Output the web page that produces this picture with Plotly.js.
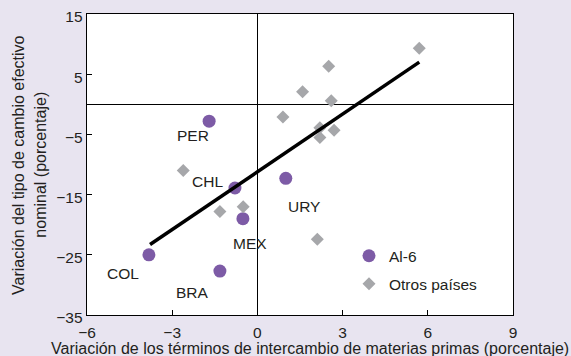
<!DOCTYPE html>
<html>
<head>
<meta charset="utf-8">
<script src="https://cdn.plot.ly/plotly-3.0.1.min.js"></script>
<style>html,body{margin:0;padding:0;background:#e8e4f0;}#chart{width:571px;height:356px;}</style>
</head>
<body>
<div id="chart"></div>
<script>
// Al-6 countries
var al6Names = ["PER", "CHL", "MEX", "URY", "COL", "BRA"];
var al6X = [-1.70, -0.79, -0.51, 1.00, -3.82, -1.32];
var al6Y = [-2.8, -13.9, -19.0, -12.3, -25.0, -27.7];

// Other countries
var otherX = [-2.61, 0.90, 5.70, 2.51, 1.59, 2.60, 2.20, 2.20, 2.70, -1.32, -0.50, 2.11];
var otherY = [-11.0, -2.1, 9.3, 6.3, 2.1, 0.6, -3.9, -5.5, -4.3, -17.8, -17.0, -22.4];

// Fitted line endpoints
var fitX = [-3.78, 5.70];
var fitY = [-23.3, 7.0];

// Axis ticks
var xTicks = [-6, -3, 0, 3, 6, 9];
var yTicks = [-35, -25, -15, -5, 5, 15];

// Label offsets (pixels) for country labels
var labelDX = [-16, -27, 7, 18, -26, -27];
var labelDY = [-14, 6, -25, -28, -19, -21];

var FONT = "Liberation Sans, Arial, sans-serif";
var TXT = "#231f20";

var traces = [
  {x: al6X, y: al6Y, type: "scatter", mode: "markers", name: "Al-6",
   legendgroup: "a",
   marker: {symbol: "circle", size: 13, color: "#7d5ba6"}},
  {x: otherX, y: otherY, type: "scatter", mode: "markers", name: "Otros países",
   legendgroup: "b",
   marker: {symbol: "diamond", size: 10, color: "#a6a7aa"}},
  {x: fitX, y: fitY, type: "scatter", mode: "lines", showlegend: false,
   line: {color: "#000000", width: 3.5}}
];

var annotations = al6Names.map(function (n, i) {
  return {x: al6X[i], y: al6Y[i], xref: "x", yref: "y", text: n, showarrow: false,
    xshift: labelDX[i], yshift: labelDY[i], font: {family: FONT, size: 15.5, color: TXT}};
});
annotations.push({xref: "paper", yref: "paper", x: -0.161, y: 0.5, textangle: -90,
  text: "Variación del tipo de cambio efectivo", showarrow: false,
  xanchor: "center", yanchor: "middle", font: {family: FONT, size: 16, color: TXT}});
annotations.push({xref: "paper", yref: "paper", x: -0.110, y: 0.5, textangle: -90,
  text: "nominal (porcentaje)", showarrow: false,
  xanchor: "center", yanchor: "middle", font: {family: FONT, size: 16, color: TXT}});
annotations.push({xref: "paper", yref: "paper", x: 0.523, y: -0.111,
  text: "Variación de los términos de intercambio de materias primas (porcentaje)", showarrow: false,
  xanchor: "center", yanchor: "middle", font: {family: FONT, size: 16, color: TXT}});

var layout = {
  width: 571, height: 356,
  margin: {l: 87, r: 58, t: 14, b: 41},
  paper_bgcolor: "#e8e4f0",
  plot_bgcolor: "#ffffff",
  font: {family: FONT, size: 15.5, color: TXT},
  showlegend: true,
  legend: {x: 0.615, y: 0.252, xanchor: "left", yanchor: "top", bgcolor: "rgba(0,0,0,0)",
    traceorder: "grouped", tracegroupgap: 5, font: {family: FONT, size: 15.5, color: TXT}},
  xaxis: {range: [-6, 9], tickvals: xTicks, ticks: "inside", ticklen: 5, tickcolor: "#000",
    showline: true, linecolor: "#000", linewidth: 1.3, mirror: true, showgrid: false,
    zeroline: true, zerolinecolor: "#000", zerolinewidth: 1, fixedrange: true,
    ticklabelstandoff: 3,
    tickfont: {family: FONT, size: 15.5, color: TXT}},
  yaxis: {range: [-35, 15], tickvals: yTicks, ticks: "inside", ticklen: 5, tickcolor: "#000",
    showline: true, linecolor: "#000", linewidth: 1.3, mirror: true, showgrid: false,
    zeroline: true, zerolinecolor: "#000", zerolinewidth: 1, fixedrange: true,
    ticklabelshift: 3,
    tickfont: {family: FONT, size: 15.5, color: TXT}},
  annotations: annotations
};

Plotly.newPlot("chart", traces, layout, {displayModeBar: false, staticPlot: true});
</script>
</body>
</html>
